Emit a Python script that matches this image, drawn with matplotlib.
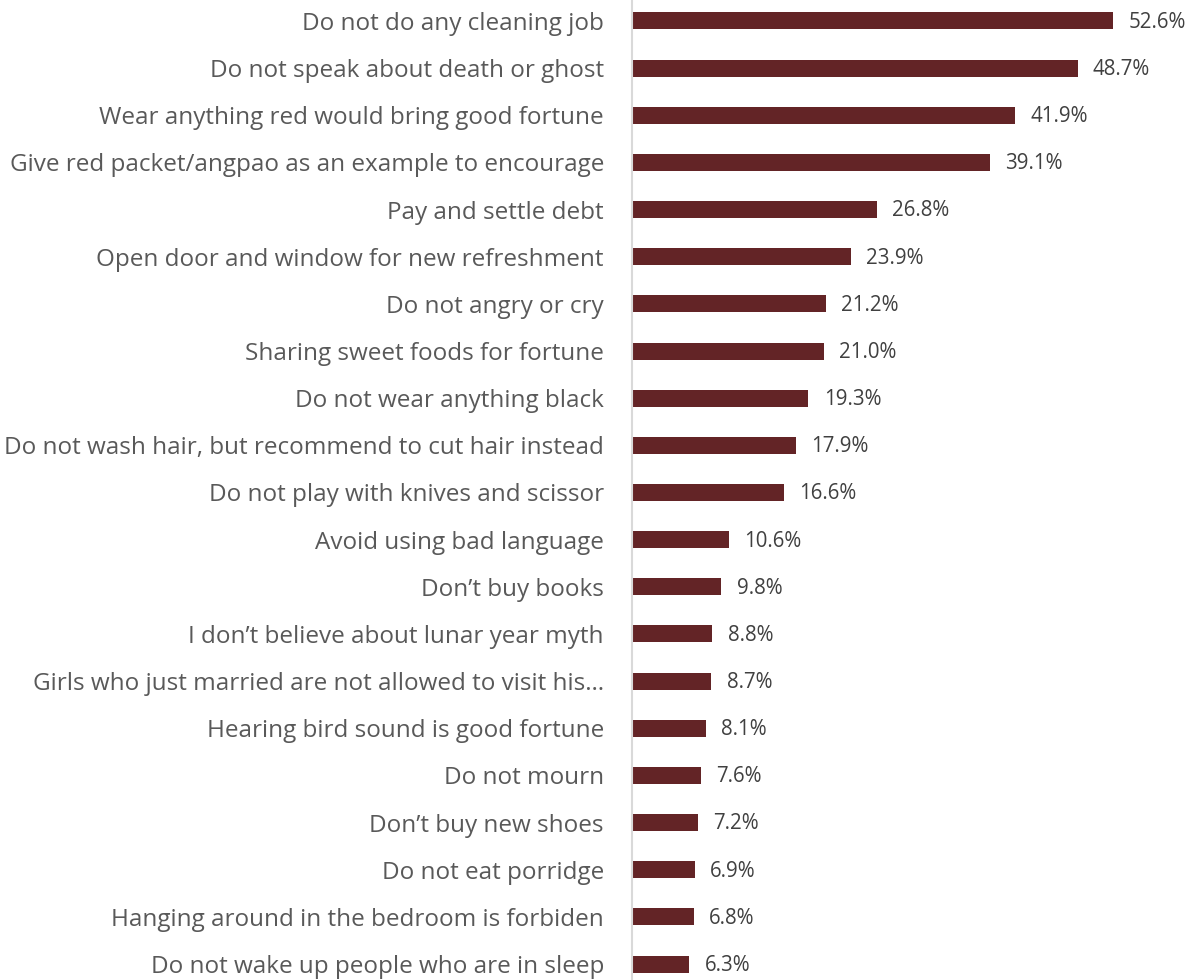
import numpy as np
import matplotlib.pyplot as plt

# lunar new year taboos, share of respondents (%)
labels = [
    'Do not do any cleaning job',
    'Do not speak about death or ghost',
    'Wear anything red would bring good fortune',
    'Give red packet/angpao as an example to encourage',
    'Pay and settle debt',
    'Open door and window for new refreshment',
    'Do not angry or cry',
    'Sharing sweet foods for fortune',
    'Do not wear anything black',
    'Do not wash hair, but recommend to cut hair instead',
    'Do not play with knives and scissor',
    'Avoid using bad language',
    'Don\u2019t buy books',
    'I don\u2019t believe about lunar year myth',
    'Girls who just married are not allowed to visit his\u2026',
    'Hearing bird sound is good fortune',
    'Do not mourn',
    'Don\u2019t buy new shoes',
    'Do not eat porridge',
    'Hanging around in the bedroom is forbiden',
    'Do not wake up people who are in sleep',
]
values = [52.6, 48.7, 41.9, 39.1, 26.8, 23.9, 21.2, 21.0, 19.3, 17.9, 16.6,
          10.6, 9.8, 8.8, 8.7, 8.1, 7.6, 7.2, 6.9, 6.8, 6.3]

plt.rcParams['font.family'] = ['Open Sans', 'DejaVu Sans']

fig = plt.figure(figsize=(11.92, 9.8), dpi=100)
ax = fig.add_axes([0.530, 0.0, 0.470, 1.0])

y = np.arange(len(labels))
ax.barh(y, values, height=0.36, color='#632426')

for yi, v in zip(y, values):
    ax.annotate(f'{v:.1f}%', (v, yi), xytext=(11, -1), textcoords='offset points',
                va='center', ha='left', fontsize=14.8, color='#404040')

ax.set_xlim(0, 61.2)
ax.set_ylim(20.339, -0.445)
ax.set_yticks(y)
ax.set_yticklabels(labels, fontsize=17.5, color='#595959')
ax.tick_params(axis='y', length=0, pad=20)
ax.set_xticks([])

for s in ['top', 'right', 'bottom']:
    ax.spines[s].set_visible(False)
ax.spines['left'].set_color('#d9d9d9')
ax.spines['left'].set_linewidth(1.5)

fig.savefig('out.png', dpi=100)
